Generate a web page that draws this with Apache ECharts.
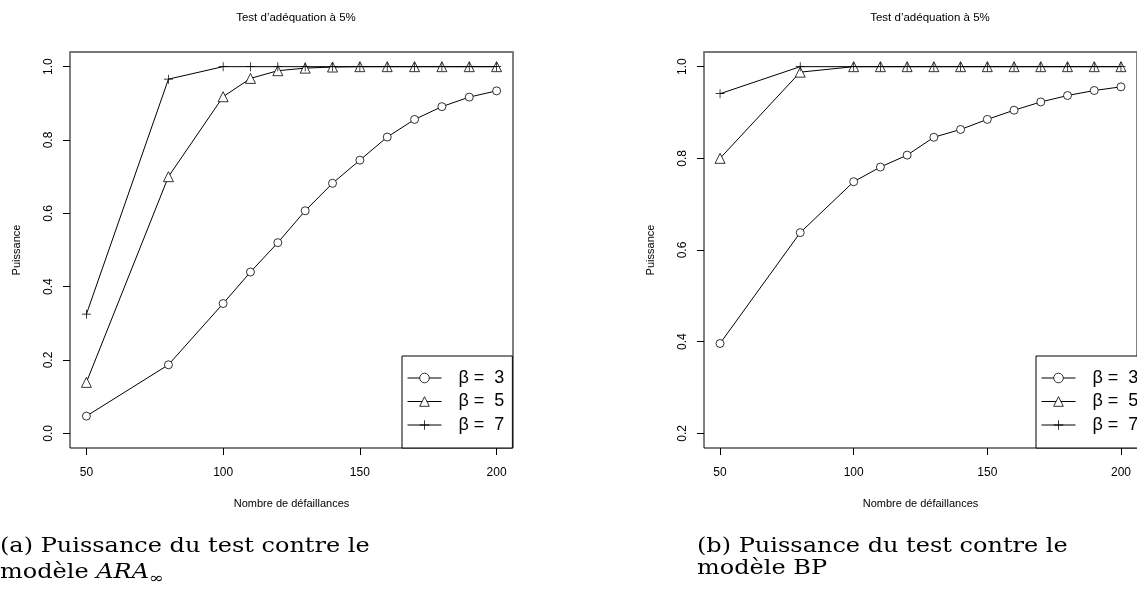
<!DOCTYPE html>
<html>
<head>
<meta charset="utf-8">
<script src="https://cdn.jsdelivr.net/npm/echarts@6/dist/echarts.min.js"></script>
<style>
html,body{margin:0;padding:0;background:#fff;}
#main{width:1137px;height:599px;}
</style>
</head>
<body>
<div id="main"></div>
<script>
// ---- data ----
const xValues = [50, 80, 100, 110, 120, 130, 140, 150, 160, 170, 180, 190, 200];
// (a) ARA_inf model
const beta3Left = [0.047, 0.187, 0.354, 0.440, 0.520, 0.607, 0.682, 0.745, 0.808, 0.856, 0.891, 0.917, 0.934];
const beta5Left = [0.139, 0.700, 0.918, 0.968, 0.989, 0.996, 0.999, 1, 1, 1, 1, 1, 1];
const beta7Left = [0.325, 0.966, 1, 1, 1, 1, 1, 1, 1, 1, 1, 1, 1];
// (b) BP model
const beta3Right = [0.396, 0.638, 0.749, 0.781, 0.807, 0.846, 0.863, 0.885, 0.905, 0.923, 0.937, 0.948, 0.956];
const beta5Right = [0.800, 0.988, 1, 1, 1, 1, 1, 1, 1, 1, 1, 1, 1];
const beta7Right = [0.941, 1, 1, 1, 1, 1, 1, 1, 1, 1, 1, 1, 1];
// tick labels
const xTicks = [50, 100, 150, 200];
const yTicksLeft = [0.0, 0.2, 0.4, 0.6, 0.8, 1.0];
const yTicksRight = [0.2, 0.4, 0.6, 0.8, 1.0];
const seriesNames = ['β =  3', 'β =  5', 'β =  7'];
const chartTitle = 'Test d’adéquation à 5%';
const xName = 'Nombre de défaillances';
const yName = 'Puissance';

// ---- chart ----
const FONT = 'Liberation Sans, Arial, sans-serif';
const plusPath = 'path://M4.6,0h0.8v4.6h4.6v0.8h-4.6v4.6h-0.8v-4.6h-4.6v-0.8h4.6z';
const symbols = ['circle', 'triangle', plusPath];
const symbolSizes = [8, 10, 9];
const symbolStyles = [
  { color: '#fff', borderColor: '#000', borderWidth: 0.8 },
  { color: '#fff', borderColor: '#000', borderWidth: 0.8 },
  { color: '#000', borderWidth: 0 }
];

function pairs(vals) { return xValues.map((x, i) => [x, vals[i]]); }

function xAxisFor(gridIndex) {
  return {
    type: 'value', gridIndex, min: 44, max: 206, position: 'bottom',
    splitLine: { show: false },
    axisLine: { show: false, onZero: false },
    axisTick: { show: true, inside: false, length: 7, customValues: xTicks, lineStyle: { color: '#000' } },
    axisLabel: { show: true, customValues: xTicks, margin: 19, color: '#000', fontFamily: FONT, fontSize: 12 },
    name: xName, nameLocation: 'middle', nameGap: 50,
    nameTextStyle: { color: '#000', fontFamily: FONT, fontSize: 11 }
  };
}
function topAxisFor(gridIndex) {
  return {
    type: 'value', gridIndex, position: 'top', min: 44, max: 206,
    splitLine: { show: false },
    axisLine: { show: true, onZero: false, lineStyle: { color: '#777', width: 2 } },
    axisTick: { show: false }, axisLabel: { show: false }
  };
}
function yAxisFor(gridIndex, min, max, ticks) {
  return {
    type: 'value', gridIndex, min, max,
    splitLine: { show: false },
    axisLine: { show: false, onZero: false },
    axisTick: { show: true, inside: false, length: 7, customValues: ticks, lineStyle: { color: '#000' } },
    axisLabel: { show: true, customValues: ticks, rotate: 90, margin: 15, color: '#000', fontFamily: FONT, fontSize: 12,
      formatter: v => Number(v).toFixed(1) },
    name: yName, nameLocation: 'middle', nameGap: 48, nameRotate: 90,
    nameTextStyle: { color: '#000', fontFamily: FONT, fontSize: 11 }
  };
}
function seriesFor(idx, arrs) {
  return arrs.map((vals, k) => ({
    name: seriesNames[k], type: 'line', xAxisIndex: idx * 2, yAxisIndex: idx,
    data: pairs(vals),
    symbol: symbols[k], symbolSize: symbolSizes[k],
    showAllSymbol: true,
    lineStyle: { color: '#000', width: 1 },
    itemStyle: symbolStyles[k],
    emphasis: { disabled: true },
    z: 3 + k
  }));
}
function legendFor(left) {
  return {
    data: seriesNames, orient: 'vertical', left, top: 356,
    itemWidth: 34, itemHeight: 12, itemGap: 4.5,
    padding: [12.5, 8, 13.5, 5],
    borderColor: '#000', borderWidth: 1, backgroundColor: '#fff',
    selectedMode: false,
    lineStyle: { width: 1, color: '#000' },
    itemStyle: { borderWidth: 0.8 },
    textStyle: { color: '#000', fontFamily: FONT, fontSize: 18, lineHeight: 19, padding: [0, 0, 0, 12] }
  };
}

const captionFont = '20px "DejaVu Serif", serif';
const chart = echarts.init(document.getElementById('main'), null, { renderer: 'canvas' });
chart.setOption({
  animation: false,
  backgroundColor: '#fff',
  title: [
    { text: chartTitle, left: 291, top: 7, textAlign: 'center', textStyle: { color: '#000', fontFamily: FONT, fontSize: 11.5, fontWeight: 'normal' } },
    { text: chartTitle, left: 925, top: 7, textAlign: 'center', textStyle: { color: '#000', fontFamily: FONT, fontSize: 11.5, fontWeight: 'normal' } }
  ],
  grid: [
    { left: 70, top: 52, width: 443, height: 396, show: true, borderColor: '#000', borderWidth: 1, backgroundColor: 'transparent' },
    { left: 704, top: 52, width: 443, height: 396, show: true, borderColor: '#000', borderWidth: 1, backgroundColor: 'transparent' }
  ],
  xAxis: [xAxisFor(0), topAxisFor(0), xAxisFor(1), topAxisFor(1)],
  yAxis: [yAxisFor(0, -0.04, 1.04, yTicksLeft), yAxisFor(1, 0.168, 1.032, yTicksRight)],
  legend: [legendFor(402), legendFor(1036)],
  series: [].concat(
    seriesFor(0, [beta3Left, beta5Left, beta7Left]),
    seriesFor(1, [beta3Right, beta5Right, beta7Right])
  ),
  graphic: [
    { type: 'text', x: 0, y: 537, scaleX: 1.2, style: { text: '(a) Puissance du test contre le', font: captionFont, fill: '#000' } },
    { type: 'text', x: 0, y: 559, scaleX: 1.2, style: {
        text: 'modèle {it|ARA}{sub|∞}', font: captionFont, fill: '#000',
        rich: { it: { fontFamily: 'DejaVu Serif', fontStyle: 'italic', fontSize: 20 }, sub: { fontFamily: 'DejaVu Serif', fontSize: 15, padding: [13, 0, 0, 0] } } } },
    { type: 'text', x: 697, y: 537, scaleX: 1.2, style: { text: '(b) Puissance du test contre le', font: captionFont, fill: '#000' } },
    { type: 'text', x: 697, y: 559, scaleX: 1.2, style: { text: 'modèle BP', font: captionFont, fill: '#000' } }
  ]
});
</script>
</body>
</html>
